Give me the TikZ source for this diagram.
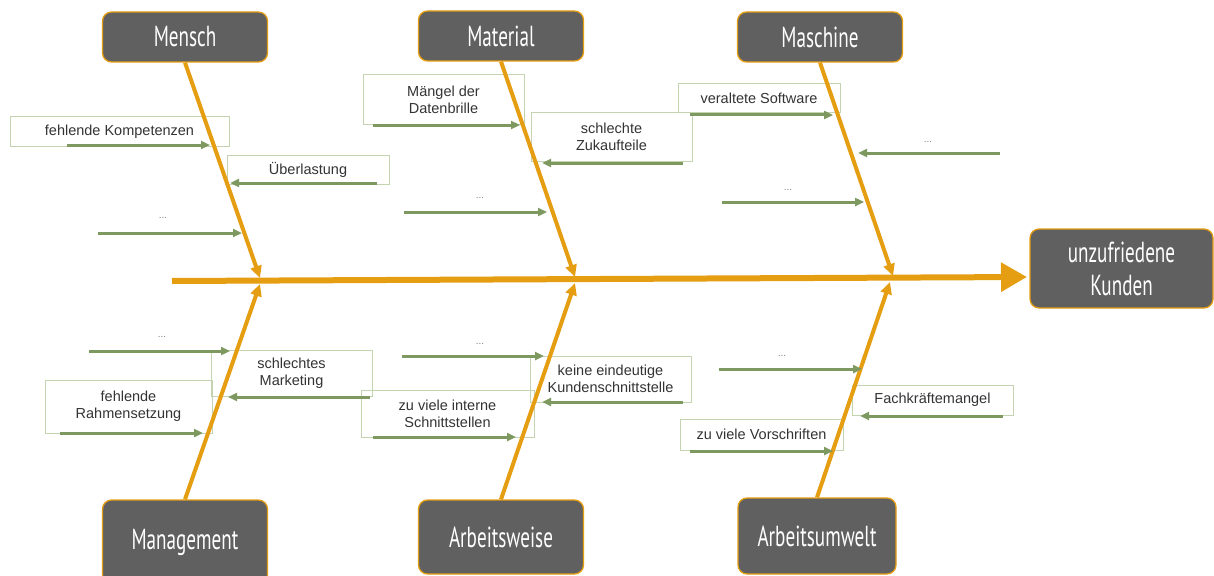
\documentclass[tikz,border=0pt]{standalone}
\usepackage{fontspec}
\usepackage{graphicx}
\setmainfont{Liberation Sans}
\newfontfamily\headfont{PT Sans}
\usetikzlibrary{arrows.meta}
\definecolor{boxgrey}{HTML}{606060}
\definecolor{bone}{HTML}{E59D12}
\definecolor{twig}{HTML}{7E9960}
\definecolor{frame}{HTML}{C5D4B0}
\definecolor{txt}{HTML}{333333}
\tikzset{
  head/.style={draw=bone, line width=1.3pt, fill=boxgrey, rounded corners=9pt,
    text=white, font=\headfont\fontsize{29}{31}\selectfont,
    minimum width=165pt, inner sep=0pt, align=center},
  cause/.style={draw=frame, line width=1pt, font=\fontsize{14.5}{17}\selectfont,
    align=center, inner sep=0pt, text=txt},
  dots/.style={font=\fontsize{10}{12}\selectfont, text=gray, inner sep=0pt},
  bonearrow/.style={draw=bone, line width=4pt, -{Triangle[length=12pt,width=11pt]}},
  spinearrow/.style={draw=bone, line width=6pt, -{Triangle[length=26pt,width=28pt]}},
  twigarrow/.style={draw=twig, line width=3pt, -{Triangle[length=9pt,width=8pt]}},
}
\newcommand\hd[1]{\scalebox{0.66}[1]{#1}}
\newcommand\twig[3]{\coordinate (#1a) at (#2); \coordinate (#1b) at (#3); \draw[twigarrow] (#1a) -- (#1b);}
\begin{document}
\begin{tikzpicture}[x=1pt,y=-1pt]
\useasboundingbox (0,0) rectangle (1214,575);

% head boxes
\node[head, minimum height=50pt] (mensch) at (185,37) {\hd{Mensch}};
\node[head, minimum height=50pt] (material) at (501,36) {\hd{Material}};
\node[head, minimum height=50pt] (maschine) at (820,37) {\hd{Maschine}};
\node[head, minimum height=84pt] (management) at (185,542) {\hd{Management}};
\node[head, minimum height=74pt] (arbeitsweise) at (501,537) {\hd{Arbeitsweise}};
\node[head, minimum height=76pt, minimum width=158pt] (arbeitsumwelt) at (817,536) {\hd{Arbeitsumwelt}};
\node[head, minimum height=79pt, minimum width=183pt, font=\headfont\fontsize{29}{33}\selectfont] (kunden) at (1121.5,268.5) {\hd{unzufriedene}\\\hd{Kunden}};

% cause boxes
\node[cause, minimum width=219pt, minimum height=29pt] (kompetenzen) at (119.5,131.5) {fehlende Kompetenzen};
\node[cause, minimum width=162pt, minimum height=29pt] (ueberlastung) at (308,169.5) {Überlastung};
\node[cause, minimum width=161pt, minimum height=49pt] (maengel) at (443.5,99.5) {Mängel der\\Datenbrille};
\node[cause, minimum width=161pt, minimum height=48pt] (zukauf) at (611.5,137) {schlechte\\Zukaufteile};
\node[cause, minimum width=162pt, minimum height=29pt] (software) at (759,98.5) {veraltete Software};
\node[cause, minimum width=161pt, minimum height=46pt] (marketing) at (291.5,373) {schlechtes\\Marketing};
\node[cause, minimum width=167pt, minimum height=53pt] (rahmen) at (128.5,406.5) {fehlende\\Rahmensetzung};
\node[cause, minimum width=161pt, minimum height=46pt] (kschnitt) at (610.5,379) {keine eindeutige\\Kundenschnittstelle};
\node[cause, minimum width=173pt, minimum height=47pt] (intern) at (447.5,413.5) {zu viele interne\\Schnittstellen};
\node[cause, minimum width=161pt, minimum height=30pt] (fach) at (932.5,400) {Fachkräftemangel};
\node[cause, minimum width=163pt, minimum height=31pt] (vorschr) at (761.5,434.5) {zu viele Vorschriften};

% dots labels
\node[dots] (d1) at (163,218) {...};
\node[dots] (d2) at (480,198) {...};
\node[dots] (d3) at (928,142) {...};
\node[dots] (d4) at (788,190) {...};
\node[dots] (d5) at (162,337) {...};
\node[dots] (d6) at (480,344) {...};
\node[dots] (d7) at (782,356) {...};

% spine
\coordinate (s0) at (172,281);
\coordinate (s1) at (1027,277);
\draw[spinearrow] (s0) -- (s1);

% bones
\coordinate (t1) at (260,278);
\coordinate (t2) at (575,277);
\coordinate (t3) at (893,276);
\coordinate (t4) at (260,284);
\coordinate (t5) at (575,283);
\coordinate (t6) at (890,282);
\draw[bonearrow] (mensch.south) -- (t1);
\draw[bonearrow] (material.south) -- (t2);
\draw[bonearrow] (maschine.south) -- (t3);
\draw[bonearrow] (management.north) -- (t4);
\draw[bonearrow] (arbeitsweise.north) -- (t5);
\draw[bonearrow] (arbeitsumwelt.north) -- (t6);

% twigs
\twig{k}{67,145}{210,145}
\twig{u}{377,183}{230,183}
\twig{a}{98,233}{242,233}
\twig{m}{373,125}{520,125}
\twig{z}{683,163}{542,163}
\twig{b}{404,212}{547,212}
\twig{s}{690,115}{833,115}
\twig{c}{1000,153}{858,153}
\twig{d}{722,202}{864,202}
\twig{e}{89,351}{230,351}
\twig{mk}{370,397}{228,397}
\twig{r}{60,433}{203,433}
\twig{f}{402,356}{544,356}
\twig{ks}{683,402}{542,402}
\twig{i}{373,437}{516,437}
\twig{g}{719,369}{862,369}
\twig{fk}{1003,416}{860,416}
\twig{v}{690,451}{833,451}
\end{tikzpicture}
\end{document}
